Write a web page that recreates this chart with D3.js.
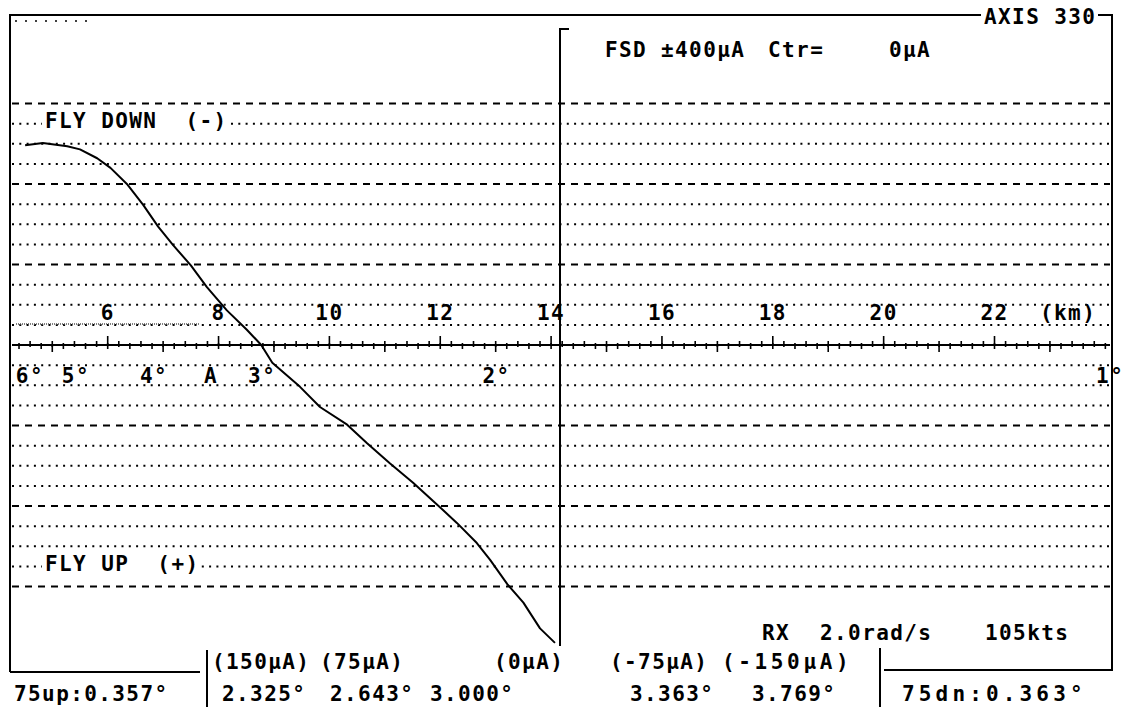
<!DOCTYPE html>
<html>
<head>
<meta charset="utf-8">
<script src="https://cdn.jsdelivr.net/npm/d3@7"></script>
<style>
html,body{margin:0;padding:0;background:#fff;}
svg{display:block;}
text{font-family:"DejaVu Sans Mono",monospace;font-weight:bold;font-size:21px;letter-spacing:1.4px;fill:#000;white-space:pre;}
</style>
</head>
<body>
<svg id="chart" width="1124" height="707"></svg>
<script>
// ---------------- data ----------------
const distanceKm = [4.51,4.83,5.27,5.50,5.81,6.05,6.36,6.64,6.91,7.18,7.50,7.79,8.15,8.51,8.77,8.97,9.47,9.83,10.32,10.68,11.09,11.51,11.94,12.30,12.66,12.90,13.21,13.50,13.80,14.07];
const ddmMicroA  = [-248,-251,-247,-243,-232,-220,-199,-174,-147,-124,-99,-72,-43,-19,0,22,52,77,99,122,147,171,198,221,246,267,297,320,352,370];

const kmTicks  = [6,8,10,12,14,16,18,20,22];
const kmLabels = ["6","8","10","12","14","16","18","20","22"];

const angleLabels = ["6°","5°","4°","A","3°","2°","1°"];
const angleKm     = [4.85,5.68,7.09,7.99,9.04,13.27,24.34];

const gridLevels = [-300,-275,-250,-225,-200,-175,-150,-125,-100,-75,-50,-25,25,50,75,100,125,150,175,200,225,250,275,300];

const ddmLabels   = ["(150μA)","(75μA)","(0μA)","(-75μA)","(-150μA)"];
const angleValues = ["2.325°","2.643°","3.000°","3.363°","3.769°"];
const upLabel = "75up:0.357°";
const dnLabel = "75dn:0.363°";
const title = "AXIS 330";
const fsdParts = ["FSD","±400μA","Ctr=","0μA"];
const rxParts = ["RX","2.0rad/s","105kts"];

// ---------------- layout ----------------
const svg = d3.select("#chart");
const W = 1124, H = 707;
svg.append("rect").attr("width",W).attr("height",H).attr("fill","#fff");

const x = d3.scaleLinear().domain([6,22]).range([107.7,994.5]);
const y = d3.scaleLinear().domain([-400,400]).range([345-322,345+322]);

const plotL = 12, plotR = 1110;
const ink = "#000";

// grid lines
svg.append("g").selectAll("line").data(gridLevels).join("line")
  .attr("x1",plotL).attr("x2",plotR)
  .attr("y1",d=>y(d)).attr("y2",d=>y(d))
  .attr("stroke",ink)
  .attr("stroke-width",d=>d%100===0?2.2:2)
  .attr("stroke-dasharray",d=>d%100===0?"7,6":"2,5.3");

// faint second trace near -25 on the left
svg.append("line").attr("x1",16).attr("x2",200).attr("y1",y(-26)).attr("y2",y(-26))
  .attr("stroke","#555").attr("stroke-width",1.5).attr("stroke-dasharray","1,1");

// distance axis
svg.append("line").attr("x1",plotL).attr("x2",plotR).attr("y1",y(0)).attr("y2",y(0))
  .attr("stroke",ink).attr("stroke-width",2);
const minor = d3.range(4.4,24.1,0.2);
svg.append("g").selectAll("line").data(minor).join("line")
  .attr("x1",d=>x(d)).attr("x2",d=>x(d))
  .attr("y1",(d,i)=>y(0)-(i%2?4:2)).attr("y2",(d,i)=>y(0)+(i%2?2:4))
  .attr("stroke",ink).attr("stroke-width",1.6);
svg.append("g").selectAll("line").data(kmTicks).join("line")
  .attr("x1",d=>x(d)).attr("x2",d=>x(d))
  .attr("y1",y(0)-9).attr("y2",y(0))
  .attr("stroke",ink).attr("stroke-width",1.6);
svg.append("g").selectAll("line").data(d3.range(5,24,2)).join("line")
  .attr("x1",d=>x(d)).attr("x2",d=>x(d))
  .attr("y1",y(0)).attr("y2",y(0)+7)
  .attr("stroke",ink).attr("stroke-width",1.6);

// km labels
svg.append("g").selectAll("text").data(kmTicks).join("text")
  .attr("x",d=>x(d)).attr("y",320).attr("text-anchor","middle")
  .text((d,i)=>kmLabels[i]);
svg.append("text").attr("x",1040).attr("y",320).text("(km)");

// angle labels
svg.append("g").selectAll("text").data(angleKm).join("text")
  .attr("x",d=>x(d)).attr("y",383).attr("text-anchor","end")
  .text((d,i)=>angleLabels[i]);

// frame
const frame = svg.append("g").attr("stroke",ink).attr("stroke-width",2).attr("fill","none");
frame.append("path").attr("d","M10,672 V15 H981");
frame.append("path").attr("d","M1098,15 H1112 V670 H884");
frame.append("path").attr("d","M10,672 H200");
frame.append("line").attr("x1",207).attr("x2",207).attr("y1",650).attr("y2",707);
frame.append("line").attr("x1",880).attr("x2",880).attr("y1",648).attr("y2",707);
frame.append("path").attr("d","M569,29 H560 V646");
svg.append("line").attr("x1",15).attr("x2",92).attr("y1",21).attr("y2",21)
  .attr("stroke",ink).attr("stroke-width",1.5).attr("stroke-dasharray","2,8");

// labels with text-cell backgrounds
const labelLayer = svg.append("g");
function cellText(str,x0,base){
  const bg = labelLayer.append("rect").attr("fill","#fff");
  const t = labelLayer.append("text").attr("x",x0).attr("y",base).text(str);
  const b = t.node().getBBox();
  bg.attr("x",b.x-3).attr("y",b.y+2).attr("width",b.width+4).attr("height",b.height-4);
  return t;
}
cellText("FLY DOWN  (-)",45,128);
cellText("FLY UP  (+)",45,571);

// title and header
svg.append("text").attr("x",984).attr("y",24).text(title);
const fsdX = [605,661,768,889];
fsdParts.forEach((s,i)=>svg.append("text").attr("x",fsdX[i]).attr("y",57).text(s));
const rxX = [762,820,985];
rxParts.forEach((s,i)=>svg.append("text").attr("x",rxX[i]).attr("y",640).text(s));

// bottom rows
const row1X = [212,320,494,610,722];
ddmLabels.forEach((s,i)=>{
  const t = svg.append("text").attr("x",row1X[i]).attr("y",669).text(s);
  if (i===4) t.attr("textLength",128).attr("lengthAdjust","spacing");
});
const row2X = [222,330,430,630,752];
angleValues.forEach((s,i)=>svg.append("text").attr("x",row2X[i]).attr("y",701).text(s));
svg.append("text").attr("x",14).attr("y",701).text(upLabel);
svg.append("text").attr("x",902).attr("y",701).attr("textLength",182).attr("lengthAdjust","spacing").text(dnLabel);

// the DDM trace
const pts = distanceKm.map((d,i)=>[d,ddmMicroA[i]]);
svg.append("path").datum(pts)
  .attr("fill","none").attr("stroke",ink).attr("stroke-width",2)
  .attr("stroke-linejoin","round")
  .attr("d",d3.line().x(d=>x(d[0])).y(d=>y(d[1])));
</script>
</body>
</html>
